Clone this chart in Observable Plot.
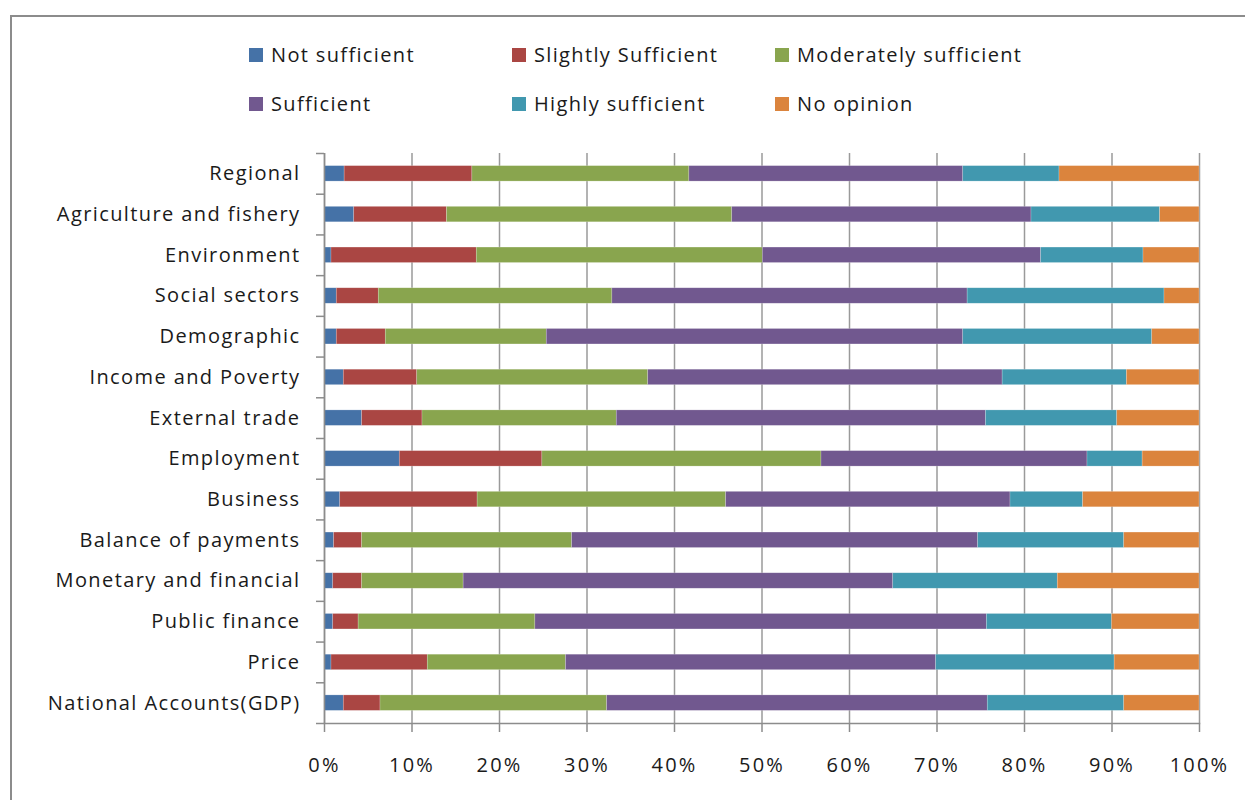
<!DOCTYPE html>
<html>
<head>
<meta charset="utf-8">
<script src="https://cdn.jsdelivr.net/npm/d3@7"></script>
<script src="https://cdn.jsdelivr.net/npm/@observablehq/plot@0.6"></script>
<style>
  html, body { margin: 0; padding: 0; background: #fff; }
  body { width: 1245px; height: 800px; position: relative; overflow: hidden; font-family: "Open Sans", sans-serif; }
  #frame { position: absolute; left: 10px; top: 15px; width: 1300px; height: 900px; border: 2px solid #8c8c8c; box-sizing: border-box; }
  #chart { position: absolute; left: 0; top: 0; }
  #legend { position: absolute; left: 249px; top: 43px; display: grid; grid-template-columns: 263px 263px 300px; row-gap: 26px; font-size: 20px; letter-spacing: 1.35px; color: #1a1a1a; }
  .item { display: flex; align-items: center; height: 23px; white-space: nowrap; }
  .sw { width: 14px; height: 14px; margin-right: 8px; flex: none; }
  #chart svg text { letter-spacing: 1.4px; }
  #chart svg g[aria-label="x-axis tick label"] text { letter-spacing: 2.2px; }
</style>
</head>
<body>
<div id="frame"></div>
<div id="chart"></div>
<div id="legend"></div>
<script>
const categories = [
  "Regional", "Agriculture and fishery", "Environment", "Social sectors", "Demographic",
  "Income and Poverty", "External trade", "Employment", "Business", "Balance of payments",
  "Monetary and financial", "Public finance", "Price", "National Accounts(GDP)"
];
const seriesNames = ["Not sufficient", "Slightly Sufficient", "Moderately sufficient", "Sufficient", "Highly sufficient", "No opinion"];
const seriesColors = ["#4572A7", "#AA4643", "#89A54E", "#71588F", "#4198AF", "#DB843D"];

const notSufficient        = [2.3, 3.4, 0.8, 1.4, 1.4, 2.2, 4.3, 8.6, 1.8, 1.1, 1.0, 1.0, 0.8, 2.2];
const slightlySufficient   = [14.6, 10.6, 16.6, 4.8, 5.6, 8.4, 6.9, 16.3, 15.7, 3.2, 3.3, 2.9, 11.0, 4.2];
const moderatelySufficient = [24.8, 32.6, 32.7, 26.7, 18.4, 26.4, 22.2, 31.9, 28.4, 24.0, 11.6, 20.2, 15.8, 25.9];
const sufficient           = [31.3, 34.2, 31.8, 40.6, 47.6, 40.5, 42.2, 30.4, 32.5, 46.4, 49.1, 51.6, 42.3, 43.5];
const highlySufficient     = [11.0, 14.7, 11.7, 22.5, 21.6, 14.2, 15.0, 6.3, 8.3, 16.7, 18.8, 14.3, 20.4, 15.6];
const noOpinion            = [16.0, 4.5, 6.4, 4.0, 5.4, 8.3, 9.4, 6.5, 13.3, 8.6, 16.2, 10.0, 9.7, 8.6];

const xTicks = [0, 0.1, 0.2, 0.3, 0.4, 0.5, 0.6, 0.7, 0.8, 0.9, 1];

const seriesValues = [notSufficient, slightlySufficient, moderatelySufficient, sufficient, highlySufficient, noOpinion];
const data = [];
categories.forEach((c, i) => {
  seriesNames.forEach((s, j) => data.push({category: c, series: s, value: seriesValues[j][i]}));
});

const W = 1245, H = 800;
const mTop = 153, mBottom = 77, mLeft = 324, mRight = 46;
const step = (H - mTop - mBottom) / categories.length;
const font = "Open Sans";
const axisGray = "#8c8c8c";

const chart = Plot.plot({
  width: W,
  height: H,
  marginTop: mTop,
  marginBottom: mBottom,
  marginLeft: mLeft,
  marginRight: mRight,
  style: {background: "transparent", fontFamily: font, fontSize: "20px", color: "#1a1a1a", overflow: "visible"},
  x: {domain: [0, 1]},
  y: {domain: categories, paddingInner: 0.62, paddingOuter: 0.31, round: false},
  color: {domain: seriesNames, range: seriesColors},
  marks: [
    Plot.gridX(xTicks, {stroke: "#9a9a9a", strokeOpacity: 1, strokeWidth: 1.5}),
    Plot.barX(data, Plot.stackX({
      x: "value", y: "category", fill: "series", offset: "normalize", order: seriesNames,
      stroke: "#ffffff", strokeOpacity: 0.35, strokeWidth: 0.6
    })),
    Plot.ruleX([0], {stroke: axisGray, strokeWidth: 1.5}),
    Plot.axisX(xTicks, {anchor: "bottom", tickFormat: d3.format(".0%"), tickSize: 9, tickPadding: 25, stroke: axisGray, strokeWidth: 1.5, fontSize: 20, fill: "#1a1a1a", label: null}),
    Plot.frame({anchor: "bottom", stroke: axisGray, strokeWidth: 1.5}),
    Plot.axisY({anchor: "left", tickSize: 0, tickPadding: 24, fontSize: 20, fill: "#1a1a1a", label: null}),
    Plot.axisY({anchor: "left", tickSize: 8, text: null, dy: -step / 2, stroke: axisGray, strokeWidth: 1.5, label: null}),
    Plot.axisY([categories[categories.length - 1]], {anchor: "left", tickSize: 8, text: null, dy: step / 2, stroke: axisGray, strokeWidth: 1.5, label: null})
  ]
});
document.getElementById("chart").appendChild(chart);

const legend = document.getElementById("legend");
seriesNames.forEach((name, j) => {
  const item = document.createElement("div");
  item.className = "item";
  const sw = document.createElement("span");
  sw.className = "sw";
  sw.style.background = seriesColors[j];
  const tx = document.createElement("span");
  tx.textContent = name;
  item.appendChild(sw);
  item.appendChild(tx);
  legend.appendChild(item);
});
</script>
</body>
</html>
